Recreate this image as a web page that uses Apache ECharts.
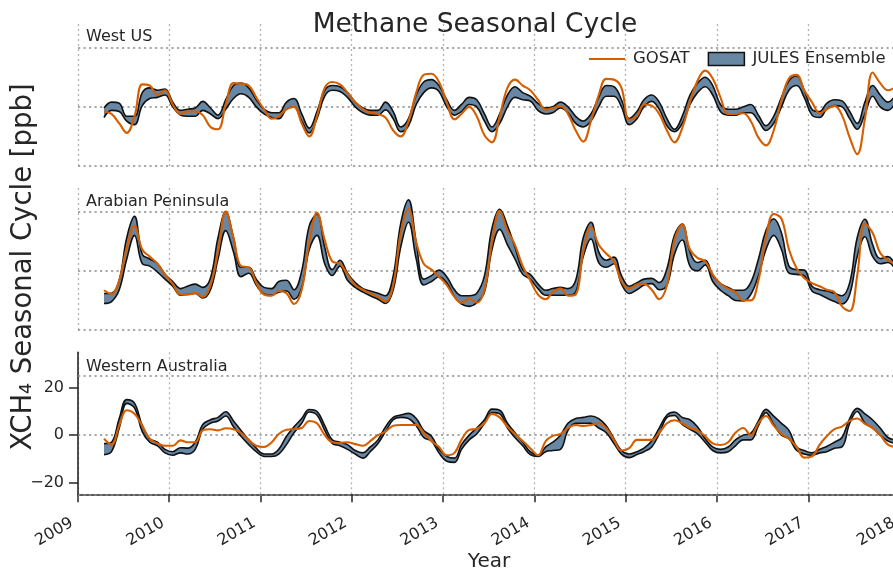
<!DOCTYPE html>
<html><head><meta charset="utf-8">
<script src="https://cdn.jsdelivr.net/npm/echarts@6/dist/echarts.min.js"></script>
<style>html,body{margin:0;padding:0;background:#fff;overflow:hidden}#c{width:893px;height:574px}</style>
</head><body><div id="c"></div>
<script>
// ---- data (monthly, mid-month, April 2009 .. December 2017) ----
const firstYear = 2009;
const firstMonth = 4; // April 2009
const yearTicks = [2009, 2010, 2011, 2012, 2013, 2014, 2015, 2016, 2017, 2018];
const yTickLabels = [-20, 0, 20];
const refLines = [-25, 0, 25];
const regionNames = ['West US', 'Arabian Peninsula', 'Western Australia'];

const wusGosat = [
 -2, -3, -7, -11, -4, 9.5, 9, 5, 7,
 1, -3, -2, -2, -3.5, -8.5, -9.5, 1, 10, 9.8, 9, 4,
 -1, -5, -4, -1, 0, -7, -12.5, -4, 8, 10.5, 9.5, 6,
 2, -1, -2.5, -3, -4.5, -10, -12.5, -6, 6, 13.5, 14, 10.5,
 2, -5.3, -3, 0, -4, -12, -15, -4, 8, 11.5, 9, 7,
 3, -1.2, -0.5, 0.3, -3, -10, -14.7, -6, 5, 11.8, 11.5, 8,
 -5.5, -4, 1, 0.5, -3, -10, -15, -9, 2, 11, 15.3, 12,
 4, -3, -3, -2.7, -6, -13, -16.3, -10, 3, 12, 13.5, 7,
 2, -2.7, -1, 0.4, -3.5, -13, -20, -5, 14.5, 10, 7, 8.3];
const wusJulesMax = [
 -0.5, 2, 1.5, -4, -4, 6, 8, 7, 7.5,
 2, -1.5, -1, -0.5, 2.3, -0.5, -3.5, 3, 9, 10, 8, 3,
 -1, -2.5, -2.5, 2, 3.5, -3, -9, -2, 7, 9, 8.5, 6,
 2, -0.5, -1.5, -1.5, 2, -2, -8.5, -5, 5, 10.5, 11.5, 9,
 3, -1.5, 1, 4, 3, -3, -8.5, -3, 5, 8.5, 6, 4.5,
 1.5, -0.5, 0, 2, 0, -4, -6, -3, 4, 9, 8.5, 3,
 -5, -2, 3, 5, 2, -5, -9.5, -4, 5, 10, 12.5, 9,
 1, -1, -1, 0, 1, -3.5, -8, -4, 4, 11, 13, 7,
 -1, -2, 1.5, 3, 2.5, -2, -7, 2, 9, 5, 2, 5];
const wusJulesMin = [
 -4.5, -1.5, -2, -6, -7.5, 0.5, 3.5, 4, 5,
 0, -3.5, -4, -4, -1.5, -3, -5, -1, 3.5, 5.5, 4, 0,
 -3, -4.5, -5, -1, 0, -6, -11, -5, 4.5, 7, 6.5, 4,
 0, -2.5, -3.5, -3.5, -1.3, -5, -10.5, -8, 1, 6, 8, 6.5,
 0, -3.5, -2, 1, 0, -6, -10.5, -7, 0, 4, 3, 2.5,
 -1.5, -3, -2.5, -0.5, -2.5, -7, -8.5, -6, 0, 4.5, 4.5, 0,
 -7.5, -5, 0, 2.3, -1, -8, -10.5, -7, 1, 6, 8.5, 5,
 -2, -3.5, -3.5, -2.5, -2.5, -6, -10, -7, 0, 7, 9, 4,
 -3.5, -4.5, -1, 0.5, 0, -5, -9.5, -3, 4.5, 0, -1.5, 2];

const arpGosat = [
 -8.2, -9.8, -4, 10, 19, 9, 6, 3, -1.5,
 -5.5, -10, -10, -9.3, -11, -6, 8, 25, 14, 2, 1.5, -5,
 -10, -10.5, -8.5, -9.5, -14, -8, 12, 24.5, 13, 4, 3, -1.5,
 -6, -8, -9.5, -11, -13, -6, 16, 26, 12, 3, 0.5, -2.5,
 -6, -11, -13.5, -11.7, -13.5, -8, 12, 25.4, 17, 11, 2, -4,
 -10, -12, -9, -7.5, -10.5, -10, 8, 18.6, 11, 7.3, 4, -4.5,
 -7.5, -5.8, -5.5, -8, -12, -6, 13, 19.4, 9, 5.5, 4, -1.5,
 -5.5, -7.5, -9, -12.5, -12.5, -4, 14, 24, 22, 9, 1, -3,
 -5.2, -6.5, -8, -9, -15, -17, -2, 20, 16, 7.5, 4.5, 3];
const arpJulesMax = [
 -9.6, -9.5, -4, 14, 23, 7, 5, 3, -1.5,
 -4.5, -7.5, -6.5, -5.6, -7, -3, 14, 25, 14, 1.5, 1.5, -3.5,
 -7, -7.5, -4.5, -4, -8, 0, 19, 24, 10, 0.5, 4.5, -1,
 -5, -7.5, -8.5, -9.5, -10.5, -2, 20, 30, 12, -3.5, -2, 0.3,
 -2.5, -8, -10.5, -10.5, -9.5, -2, 18, 26, 19, 10, 0.5, -1.5,
 -5.5, -8.2, -7.5, -7, -7.5, -4, 14, 20.5, 8, 4.5, 5.8, -2,
 -6.5, -5, -3.5, -3.2, -5, 1, 15, 19.8, 8, 3.5, 4.5, -2,
 -5.4, -7, -8.2, -8.2, -5, 5, 17, 22, 16, 2, 0.5, 0.3,
 -6.5, -8, -8.5, -9.5, -10.5, -5, 14, 21.8, 11, 5.2, 6, 2];
const arpJulesMin = [
 -13.8, -13, -8, 5, 15, 3, 2, -0.5, -3.5,
 -6.5, -10.3, -10, -9.6, -11.5, -8, 5, 17, 8, -2.5, -1, -6,
 -9.8, -10.3, -9, -8.5, -12, -7, 9, 15, 3, -2, 2, -4,
 -7, -9, -10.5, -12, -13.8, -8, 10, 20.5, 5, -6, -4.5, -2.5,
 -5, -11, -14, -15, -13.5, -9, 9, 17.5, 11, 5, -1.5, -3.5,
 -7.5, -10.3, -10.3, -10.3, -10.3, -9, 6, 13.5, 3.5, 1.5, 3, -5.5,
 -9.6, -8, -6, -5.4, -8, -6, 7, 13, 2, 0, 2.5, -4.5,
 -8.2, -10.5, -12.5, -12.7, -10, -2, 9, 15, 9, -1, -1.5, -2,
 -8.5, -10, -11.5, -13, -14, -10, 6, 14.4, 6, 3, 3.5, 0.5];

const waGosat = [
 -1.5, -4, 4, 10.5, 9, 4, -1.5, -3.5, -4.5,
 -4.5, -2.2, -3, -3, 2, 2.5, 2, 2.9, 2.5, 1, -2, -4.5,
 -5, -3, 0.5, 2.3, 2.5, 3, 6, 5, 0, -3, -3.3, -3,
 -3.8, -4.5, -2.5, 0, 1.5, 4, 4.3, 4.3, 4.3, 1, -2.5, -5,
 -8.5, -7.5, -2, 2.2, 2.7, 5, 9, 7.5, 3.5, 0.5, -2.5, -5.5,
 -8.5, -2.5, -0.3, 0.5, 3, 4.3, 3.9, 4.3, 5, 3, -2, -6.5,
 -5.5, -2, -2, -2, 1, 5, 6.3, 5, 3, 2, -0.5, -3.5,
 -4.2, -3, 1, 3, 0, 5, 8.1, 4, 0.5, -1.5, -5, -9.5,
 -9, -4, -0.5, 2.5, 3.6, 6, 7, 4.8, 3, 0, -4, -5];
const waJulesMax = [
 -3.6, -3, 7, 15, 13.5, 4, -1.5, -3, -6,
 -7, -5.3, -5.5, -3, 4.5, 6.5, 7.5, 9.9, 6, 2, -2, -5.5,
 -8, -8, -6, -0.5, 3.5, 7, 10.8, 10, 4, -2, -3, -4,
 -6.5, -7.5, -5, -2, 3.5, 7.5, 8.5, 9.2, 7, 2, -0.5, -6,
 -9, -9.7, -4, 0, 3, 6.5, 11, 10.5, 5, 1, -3, -7,
 -8.5, -5, -3, 0, 5, 7, 7.5, 8.1, 7, 4, -1.5, -6.5,
 -8, -7, -5.5, -2.5, 3, 8.5, 9.8, 7.5, 6.5, 3.5, -1.5, -5,
 -6, -5, -2, 0, 0.7, 6, 10.9, 8, 5, 2, -5, -6.5,
 -7.5, -6, -4.8, -3, -1, 7, 11.3, 9, 6.4, 3, -1, -2];
const waJulesMin = [
 -8.3, -7, 3, 13.4, 11.5, 1.5, -3, -4.5, -7.5,
 -8.5, -7.5, -8, -6, 2.5, 5, 6, 8.1, 3.5, -0.5, -4, -7,
 -9, -9, -8, -4, 1, 5, 9.8, 8.5, 2, -3.5, -4.5, -6,
 -8, -9.7, -7, -3.5, 1.5, 6.5, 7.5, 7, 4, -1, -2.5, -7.5,
 -11, -11.5, -6, -2, 0.5, 5, 9.5, 9, 3, -1, -4.5, -8.2,
 -9, -7, -6.5, -6, 2, 5, 5, 5, 3, 1, -3.5, -8,
 -9.5, -8.2, -7, -5, 0.5, 7.5, 8.3, 4.5, 2.5, 0.5, -3, -6.5,
 -7.5, -7, -4.5, -2, -2, 4, 9.5, 4.5, 0, -1.5, -6.5, -8,
 -8.5, -7.5, -7, -5.5, -5, 5, 10, 5, 3, 0, -2.5, -3.5];

// ---- chart ----
const dark = '#262626';
const orange = '#d55e00';
const bandFill = '#6787a4';
const edge = '#111111';
const font = 'DejaVu Sans';
const DAY = 86400000;

const times = wusGosat.map((_, i) => Date.UTC(firstYear, firstMonth - 1 + i, 15));
const panels = [
  { gosat: wusGosat, up: wusJulesMax, lo: wusJulesMin },
  { gosat: arpGosat, up: arpJulesMax, lo: arpJulesMin },
  { gosat: waGosat, up: waJulesMax, lo: waJulesMin }
];
const gridTops = [24, 188, 352.3];
const last = panels.length - 1;

const grid = gridTops.map(t => ({ left: 78, top: t, width: 821.7, height: 142, outerBoundsMode: 'none', containLabel: false }));

const xAxis = panels.map((p, i) => ({
  type: 'time', gridIndex: i,
  min: Date.UTC(yearTicks[0], 0, 1), max: Date.UTC(yearTicks[yearTicks.length - 1], 0, 1),
  minInterval: 300 * DAY, maxInterval: 400 * DAY, splitNumber: yearTicks.length - 1,
  axisLine: { show: i === last, onZero: false, lineStyle: { color: dark, width: 1.6 } },
  axisTick: { show: i === last, length: 8, lineStyle: { color: dark, width: 1.5 } },
  minorTick: { show: false },
  axisLabel: { show: i === last, rotate: 30, fontSize: 16, color: dark, fontFamily: font, margin: 24,
    padding: [0, 7, 0, 0], hideOverlap: false, showMinLabel: true, showMaxLabel: true,
    formatter: v => String(new Date(v).getUTCFullYear()) },
  splitLine: { show: true, showMinLine: false, lineStyle: { color: '#b3b3b3', type: [2, 3], width: 1.3 } }
}));

const yAxis = panels.map((p, i) => ({
  type: 'value', gridIndex: i, min: -25, max: 35, show: i === last,
  axisLine: { show: true, onZero: false, lineStyle: { color: dark, width: 1.6 } },
  axisTick: { show: true, length: 9, customValues: yTickLabels, lineStyle: { color: dark, width: 1.5 } },
  axisLabel: { customValues: yTickLabels, fontSize: 16, color: dark, fontFamily: font, margin: 14,
    formatter: v => v < 0 ? '\u2212' + Math.abs(v) : String(v) },
  splitLine: { show: false }
}));

const series = [];
panels.forEach((p, i) => {
  series.push({
    type: 'line', name: 'JULES Ensemble', xAxisIndex: i, yAxisIndex: i,
    data: times.map((t, k) => [t, p.lo[k]]),
    stack: 'band' + i, stackStrategy: 'all', smooth: 0.4, symbol: 'none',
    lineStyle: { color: edge, width: 1.6 }, itemStyle: { color: bandFill }, z: 3, animation: false
  });
  series.push({
    type: 'line', name: 'JULES Ensemble', xAxisIndex: i, yAxisIndex: i,
    data: times.map((t, k) => [t, p.up[k] - p.lo[k]]),
    stack: 'band' + i, stackStrategy: 'all', smooth: 0.4, symbol: 'none',
    lineStyle: { color: edge, width: 1.6 }, itemStyle: { color: bandFill },
    areaStyle: { color: bandFill, opacity: 1 }, z: 2, animation: false,
    markLine: {
      silent: true, symbol: ['none', 'none'], z: 1, animation: false, label: { show: false },
      lineStyle: { color: '#8c8c8c', type: [2.2, 3.3], width: 1.7 },
      data: refLines.map(v => ({ yAxis: v }))
    }
  });
  series.push({
    type: 'line', name: 'GOSAT', xAxisIndex: i, yAxisIndex: i,
    data: times.map((t, k) => [t, p.gosat[k]]),
    smooth: 0.4, symbol: 'none', showSymbol: false, lineStyle: { color: orange, width: 2.1 }, itemStyle: { color: orange },
    z: 4, animation: false
  });
});

const labelY = [37, 201.5, 366.5];
const graphic = [
  { type: 'text', x: 475, y: 25.5, style: { text: 'Methane Seasonal Cycle', font: '26.5px "DejaVu Sans"', fill: dark, align: 'center', verticalAlign: 'middle' } },
  { type: 'text', x: 24, y: 267, rotation: Math.PI / 2, style: { text: 'XCH\u2084 Seasonal Cycle [ppb]', font: '27.5px "DejaVu Sans"', fill: dark, align: 'center', verticalAlign: 'middle' } },
  { type: 'text', x: 489, y: 561.5, style: { text: 'Year', font: '20px "DejaVu Sans"', fill: dark, align: 'center', verticalAlign: 'middle' } }
].concat(regionNames.map((n, i) => ({ type: 'text', x: 86, y: labelY[i], style: { text: n, font: '16px "DejaVu Sans"', fill: dark, align: 'left', verticalAlign: 'middle' } })));

const chart = echarts.init(document.getElementById('c'), null, { renderer: 'canvas', useUTC: true });
chart.setOption({
  animation: false,
  useUTC: true,
  backgroundColor: '#ffffff',
  textStyle: { fontFamily: font },
  grid, xAxis, yAxis, series, graphic,
  legend: {
    left: 589, top: 50, padding: 0, itemWidth: 36, itemHeight: 13, itemGap: 18, symbolKeepAspect: true,
    textStyle: { fontSize: 16.5, color: dark, fontFamily: font, padding: [0, 0, 0, 3], lineHeight: 18 },
    data: [
      { name: 'GOSAT', icon: 'path://M0 0H36V2.1H0Z', itemStyle: { color: orange, borderWidth: 0 } },
      { name: 'JULES Ensemble', icon: 'rect', itemStyle: { color: bandFill, borderColor: edge, borderWidth: 1.5 } }
    ],
    selectedMode: false
  }
});
</script></body></html>
